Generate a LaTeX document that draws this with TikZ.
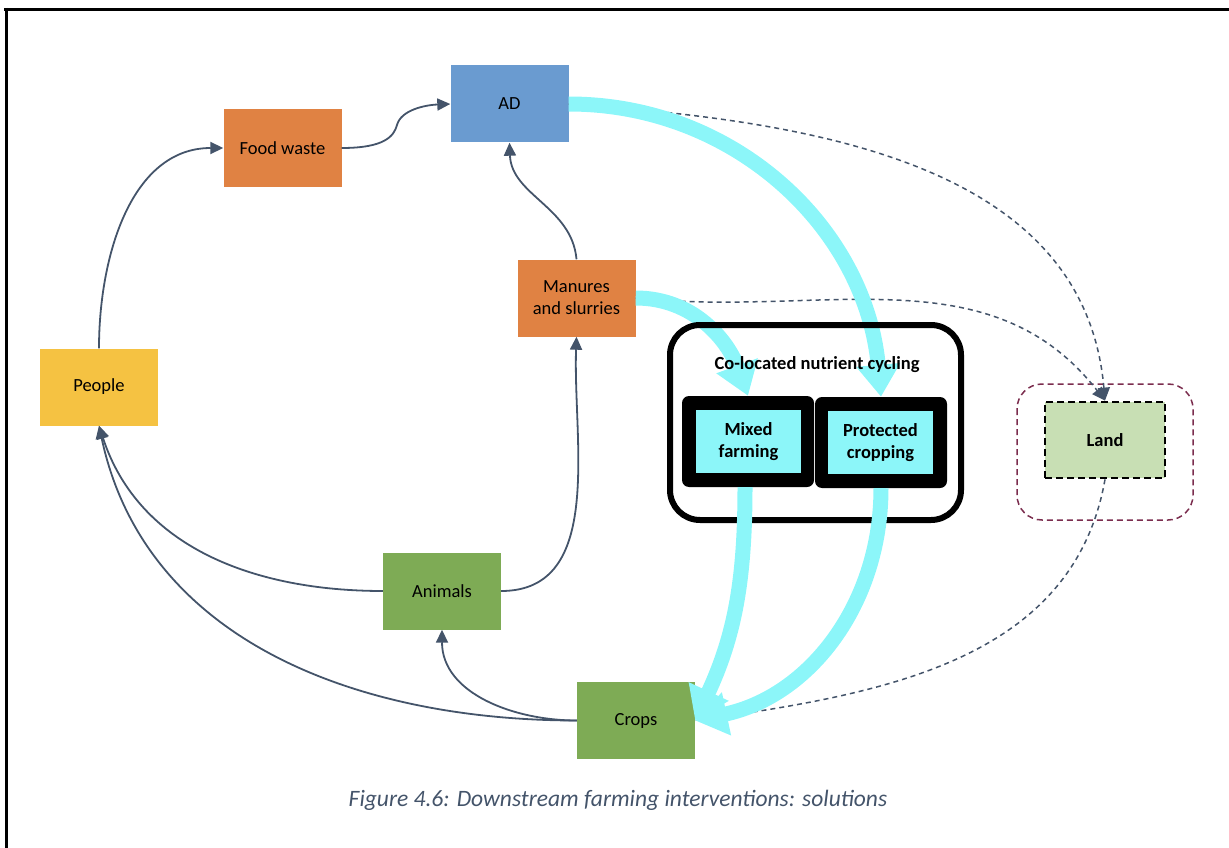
\documentclass[tikz,border=0pt]{standalone}
\usepackage{fontspec}
\setmainfont{Carlito}
\usetikzlibrary{arrows.meta}
\definecolor{adblue}{HTML}{6A9BD0}
\definecolor{wasteorange}{HTML}{E08243}
\definecolor{peopleyellow}{HTML}{F5C242}
\definecolor{farmgreen}{HTML}{7EAB55}
\definecolor{landgreen}{HTML}{C8DFB4}
\definecolor{flowcyan}{HTML}{8CF6F9}
\definecolor{slate}{HTML}{44546A}
\definecolor{plum}{HTML}{7B2D4E}
\begin{document}
\begin{tikzpicture}[x=1pt,y=-1pt,
  box/.style={minimum width=118pt,minimum height=77pt,inner sep=0pt,align=center,
    font=\fontsize{18.5}{22}\selectfont},
  link/.style={draw=slate,line width=1.8pt,-{Triangle[length=13pt,width=12pt]}},
  dlink/.style={draw=slate,line width=1.5pt,dash pattern=on 5pt off 4pt},
  flow/.style={draw=flowcyan,line width=15pt,-{Triangle[length=32pt,width=42pt]}},
  holder/.style={fill=black,rounded corners=7pt,inner sep=0pt},
  unit/.style={fill=flowcyan,inner sep=0pt,minimum width=105pt,minimum height=63pt,
    align=center,font=\fontsize{18.5}{22}\selectfont\bfseries}]
\useasboundingbox (0,0) rectangle (1229,848);
% page frame
\draw[line width=3pt] (4,9.5) -- (1229,9.5);
\draw[line width=2.7pt] (6.3,8) -- (6.3,848);

% main boxes
\node[box,fill=adblue]       (ad)      at (509.5,104) {AD};
\node[box,fill=wasteorange]  (waste)   at (282.5,148) {Food waste};
\node[box,fill=wasteorange]  (manure)  at (576.5,298) {Manures\\and slurries};
\node[box,fill=peopleyellow] (people)  at (99,387)    {People};
\node[box,fill=farmgreen]    (animals) at (442,591)   {Animals};
\node[box,fill=farmgreen]    (crops)   at (636,720.5) {Crops};

% land
\draw[plum,line width=1.5pt,dash pattern=on 6pt off 4pt,rounded corners=25pt]
  (1017,384) rectangle (1193,520);
\node[fill=landgreen,draw=black,line width=2.8pt,dash pattern=on 7pt off 4pt,
  minimum width=120pt,minimum height=76pt,inner sep=0pt,
  font=\fontsize{18.5}{22}\selectfont\bfseries] (land) at (1105,440) {Land};

% solid flows
\draw[link] (people.north) to[out=90,in=180] (waste.west);
\draw[link] (waste.east) .. controls (385,148) and (394,136) .. (397,125)
  .. controls (401,110) and (425,105) .. (ad.west);
\draw[link] (manure.north) to[out=95,in=-88] (ad.south);
\draw[link] (animals.east) to[out=0,in=-92] (manure.south);
\draw[link] (animals.west) to[out=180,in=-72] (people.south);
\draw[link] (crops.west) to[out=180,in=-78] (people.south);
\draw[link] (crops.west) to[out=180,in=-90] (animals.south);

% dashed flows to and from land
\draw[dlink,-{Triangle[length=13pt,width=12pt]}] (ad.east) to[out=-4,in=95] (land.north);
\draw[dlink,-{Triangle[length=13pt,width=12pt]}] (manure.east) to[out=-6,in=128] (land.north);
\draw[dlink] (land.south) to[out=-100,in=8] (crops.east);

% co-located units
\node[holder,minimum width=132pt,minimum height=91pt] (mixhold)  at (748,441.5) {};
\node[holder,minimum width=132pt,minimum height=91pt] (prothold) at (881,442.5) {};
\node[unit] (mixed)     at (748.5,441.5) {Mixed\\farming};
\node[unit] (protected) at (880.5,442.5) {Protected\\cropping};

% nutrient flows into the units
\draw[flow] (ad.east) to[out=0,in=95] (prothold.north);
\draw[flow] (manure.east) to[out=0,in=110] (mixhold.north);

% co-located frame
\draw[line width=6pt,rounded corners=30pt] (670,325) rectangle (961,520);
\node[font=\fontsize{18.5}{22}\selectfont\bfseries] (colab) at (817,365) {Co-located nutrient cycling};

% nutrient flows back to crops
\draw[flow] ([xshift=-3pt]mixhold.south) to[out=-90,in=65] (crops.east);
\draw[flow] (prothold.south) to[out=-90,in=12] (crops.east);

% caption
\node[font=\fontsize{23.5}{28}\selectfont\itshape,text=slate] (caption) at (618,800)
  {Figure 4.6: Downstream farming interventions: solutions};
\end{tikzpicture}
\end{document}
